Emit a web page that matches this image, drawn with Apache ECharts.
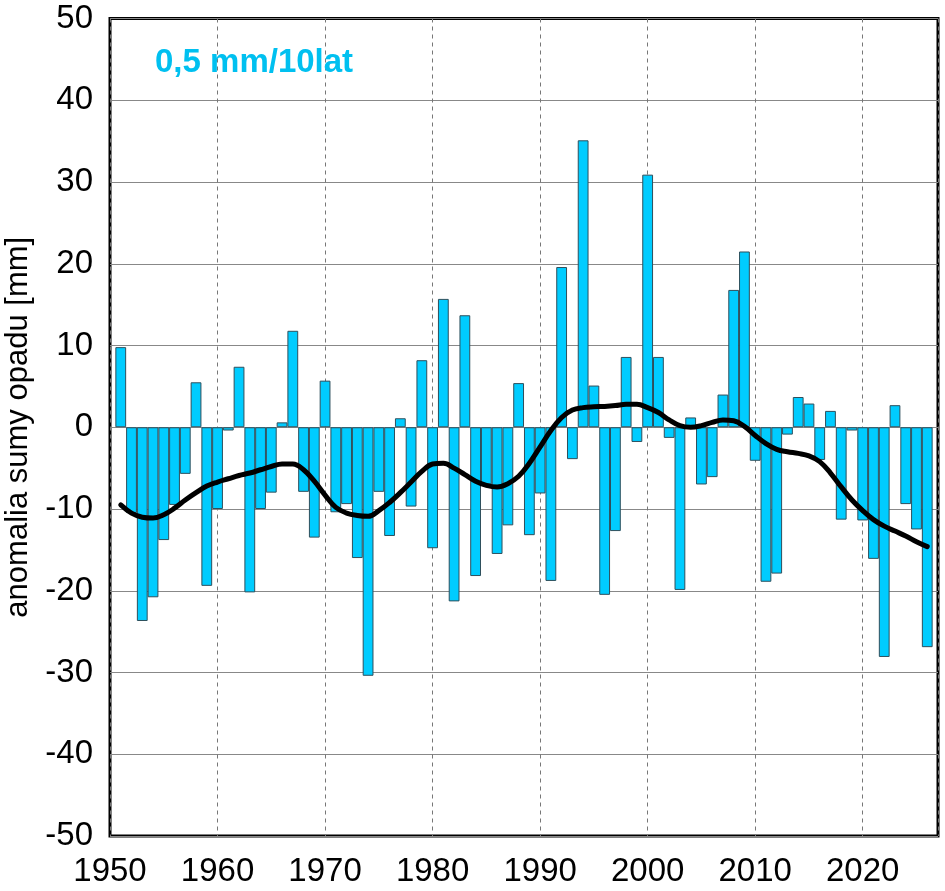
<!DOCTYPE html>
<html>
<head>
<meta charset="utf-8">
<script src="https://cdn.jsdelivr.net/npm/echarts@6/dist/echarts.min.js"></script>
<style>
html,body{margin:0;padding:0;background:#fff;}
#chart{width:945px;height:891px;}
</style>
</head>
<body>
<div id="chart"></div>
<script>
const years = [];
for (let y = 1951; y <= 2026; y++) years.push(y);

const anomalies = [
  9.8, -10.5, -23.7, -20.8, -13.8, -9.5, -5.7, 5.5, -19.4, -10.0,
  -0.4, 7.4, -20.2, -10.0, -8.0, 0.6, 11.8, -7.9, -13.5, 5.7,
  -10.4, -9.4, -16.0, -30.4, -7.9, -13.3, 1.1, -9.7, 8.2, -14.8,
  15.7, -21.3, 13.7, -18.2, -7.0, -15.5, -12.0, 5.4, -13.2, -8.1,
  -18.8, 19.6, -3.9, 35.1, 5.1, -20.5, -12.7, 8.6, -1.8, 30.9,
  8.6, -1.3, -19.9, 1.2, -7.0, -6.1, 4.0, 16.8, 21.5, -4.1,
  -18.9, -17.9, -0.9, 3.7, 2.9, -4.0, 2.0, -11.3, -0.4, -11.4,
  -16.1, -28.1, 2.7, -9.4, -12.5, -26.9
];

const smoothed = [
  -9.5, -10.5, -11.0, -11.1, -10.7, -9.9, -8.9, -8.0, -7.2, -6.7,
  -6.3, -5.9, -5.6, -5.2, -4.8, -4.5, -4.5, -5.2, -6.6, -8.3,
  -9.8, -10.5, -10.8, -10.9, -10.2, -9.2, -8.0, -6.7, -5.4, -4.5,
  -4.4, -5.0, -5.8, -6.6, -7.1, -7.3, -6.9, -6.0, -4.4, -2.4,
  -0.4, 1.2, 2.1, 2.4, 2.5, 2.55, 2.65, 2.8, 2.8, 2.4,
  1.8, 0.9, 0.2, 0.0, 0.2, 0.6, 0.9, 0.8, 0.1, -1.0,
  -2.0, -2.7, -3.0, -3.2, -3.5, -4.2, -5.6, -7.3, -8.9, -10.2,
  -11.3, -12.1, -12.7, -13.3, -14.0, -14.6
];

const trendText = '0,5 mm/10lat';
const yAxisTitle = 'anomalia sumy opadu [mm]';

const chart = echarts.init(document.getElementById('chart'), null, {renderer: 'canvas'});
const font = '"Liberation Sans", Arial, sans-serif';

chart.setOption({
  animation: false,
  backgroundColor: '#ffffff',
  grid: {
    left: 110, right: 7, top: 18.5, bottom: 55,
    containLabel: false, outerBoundsMode: 'none',
    show: true, borderColor: '#000', borderWidth: 3, backgroundColor: 'transparent'
  },
  graphic: [{
    type: 'text', left: 155, top: 46, z: 10,
    style: {text: trendText, fill: '#00C0F0', font: 'bold 33px ' + font}
  }],
  xAxis: {
    type: 'value', min: 1950, max: 2027, interval: 10,
    axisLine: {show: false}, axisTick: {show: false},
    axisLabel: {color: '#000', fontSize: 33, fontFamily: font, margin: 19,
      formatter: v => (v <= 2020 ? String(v) : '')},
    splitLine: {show: true, lineStyle: {color: '#777', type: [4, 4], width: 1}}
  },
  yAxis: {
    type: 'value', min: -50, max: 50, interval: 10,
    name: yAxisTitle, nameLocation: 'middle', nameGap: 75, nameRotate: 90,
    nameTextStyle: {color: '#000', fontSize: 31, fontFamily: font},
    axisLine: {show: false}, axisTick: {show: false},
    axisLabel: {color: '#000', fontSize: 33, fontFamily: font, margin: 17},
    splitLine: {show: true, lineStyle: {color: '#888', width: 1.2}}
  },
  series: [{
    type: 'bar',
    data: years.map((y, i) => [y, anomalies[i]]),
    barWidth: 10.8,
    itemStyle: {color: '#00CCFF', borderColor: '#2E4F5C', borderWidth: 1},
    z: 2
  }, {
    type: 'line',
    data: years.map((y, i) => [y, smoothed[i]]),
    smooth: 0.4, symbol: 'none',
    lineStyle: {color: '#000', width: 5, cap: 'round', join: 'round'},
    z: 5
  }]
});
</script>
</body>
</html>
